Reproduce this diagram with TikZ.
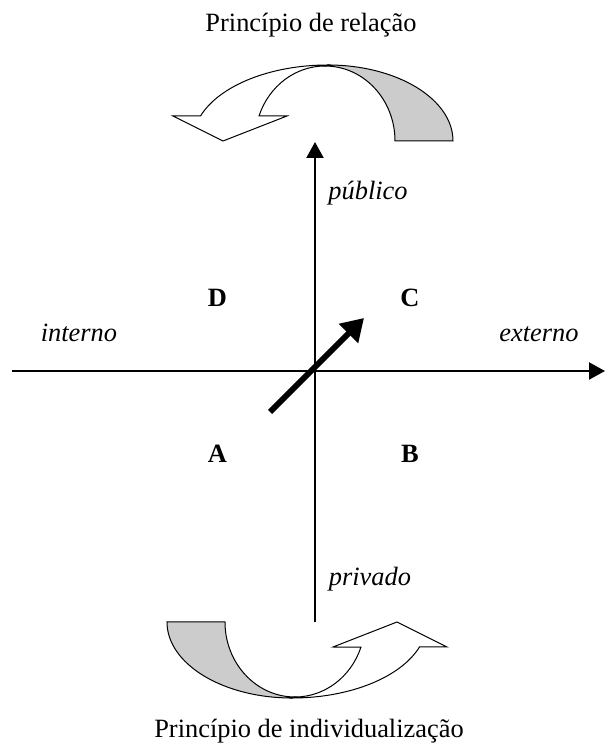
\documentclass[tikz,border=0pt]{standalone}
\usepackage{fontspec}
\setmainfont{Liberation Serif}
\usepackage{tikz}
\usetikzlibrary{arrows.meta}

\colorlet{backgray}{gray!40}

% curved arrow (drawn at its own origin, turned with a scope)
\newcommand{\bentarrow}{%
  % back half of the band, shaded
  \filldraw[bandline, fill=backgray] (128,0) arc[start angle=0, end angle=90, x radius=125, y radius=76]
    -- (0,75) arc[start angle=90, end angle=0, x radius=70, y radius=75] -- cycle;
  % front half with the head
  \filldraw[bandline, fill=white] (0,75) arc[start angle=90, end angle=160.5, x radius=70, y radius=75]
    -- (-38,25) -- (-102,0) -- (-152,25) -- (-124.5,25)
    arc[start angle=160.8, end angle=90, x radius=135, y radius=76] -- cycle;
}

\begin{document}
\begin{tikzpicture}[x=0.5pt, y=0.5pt,
  every node/.style={inner sep=0pt, font=\fontsize{13.2pt}{16pt}\selectfont},
  axis/.style={line width=1.1pt, -{Triangle[length=8pt, width=8.5pt]}},
  bandline/.style={line width=0.5pt, line join=miter},
  quadrant/.style={anchor=base, font=\fontsize{13.2pt}{16pt}\selectfont\bfseries},
  pole/.style={anchor=base, font=\fontsize{13.2pt}{16pt}\selectfont\itshape}]
\useasboundingbox (0,0) rectangle (605,746);

% eixos
\coordinate (west) at (12,375);
\coordinate (east) at (605,375);
\coordinate (south) at (315,124);
\coordinate (north) at (315,604);
\draw[axis] (west) -- (east);
\draw[axis] (south) -- (north);

% seta diagonal
\coordinate (dstart) at (270,334);
\coordinate (dend) at (364,428);
\draw[line width=3pt, -{Triangle[length=11pt, width=13pt]}] (dstart) -- (dend);

% rótulos dos eixos
\node[pole] (publico) at (368,546) {público};
\node[pole] (privado) at (370,161) {privado};
\node[pole] (interno) at (79,404) {interno};
\node[pole] (externo) at (539,404) {externo};

% quadrantes
\node[quadrant] (qD) at (217.5,439) {D};
\node[quadrant] (qC) at (410,439) {C};
\node[quadrant] (qA) at (217.5,283) {A};
\node[quadrant] (qB) at (410,283) {B};

% setas curvas
\begin{scope}[shift={(325,605)}]
  \bentarrow
\end{scope}
\begin{scope}[shift={(295,124)}, rotate=180]
  \bentarrow
\end{scope}

% princípios
\node[anchor=base] (relacao) at (311,714) {Princípio de relação};
\node[anchor=base] (individ) at (309,9) {Princípio de individualização};
\end{tikzpicture}
\end{document}
